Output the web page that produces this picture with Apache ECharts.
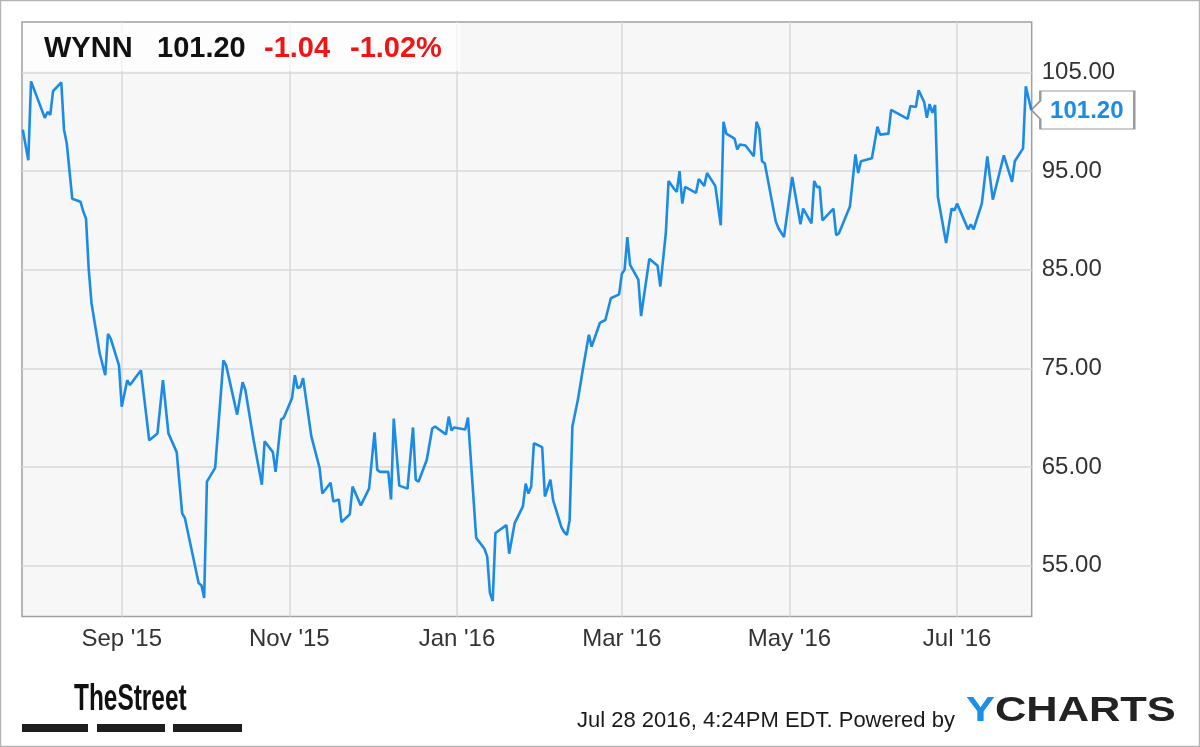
<!DOCTYPE html>
<html><head><meta charset="utf-8">
<script src="https://cdn.jsdelivr.net/npm/echarts@6.0.0/dist/echarts.min.js"></script>
<style>html,body{margin:0;padding:0;background:#fff}#c{width:1200px;height:747px}</style>
</head><body><div id="c"></div>
<script>
// ---- data ----
const tradeDates = ['2015-07-27','2015-07-29','2015-07-30','2015-08-04','2015-08-05','2015-08-06','2015-08-07','2015-08-10','2015-08-11','2015-08-12',
'2015-08-14','2015-08-17','2015-08-18','2015-08-19','2015-08-20','2015-08-21','2015-08-24','2015-08-26','2015-08-27','2015-08-28',
'2015-08-31','2015-09-01','2015-09-03','2015-09-04','2015-09-08','2015-09-11','2015-09-14','2015-09-16','2015-09-18','2015-09-21',
'2015-09-23','2015-09-24','2015-09-29','2015-09-30','2015-10-01','2015-10-02','2015-10-05','2015-10-08','2015-10-09','2015-10-13',
'2015-10-15','2015-10-16','2015-10-19','2015-10-22','2015-10-23','2015-10-26','2015-10-27','2015-10-29','2015-10-30','2015-11-02',
'2015-11-03','2015-11-04','2015-11-05','2015-11-06','2015-11-09','2015-11-12','2015-11-13','2015-11-16','2015-11-17','2015-11-19',
'2015-11-20','2015-11-23','2015-11-24','2015-11-27','2015-11-30','2015-12-02','2015-12-03','2015-12-04','2015-12-07','2015-12-08',
'2015-12-09','2015-12-11','2015-12-14','2015-12-16','2015-12-17','2015-12-18','2015-12-21','2015-12-23','2015-12-24','2015-12-28',
'2015-12-29','2015-12-30','2015-12-31','2016-01-04','2016-01-05','2016-01-08','2016-01-11','2016-01-12','2016-01-13','2016-01-14',
'2016-01-15','2016-01-19','2016-01-20','2016-01-22','2016-01-25','2016-01-26','2016-01-27','2016-01-28','2016-01-29','2016-02-01',
'2016-02-02','2016-02-04','2016-02-05','2016-02-08','2016-02-09','2016-02-10','2016-02-11','2016-02-12','2016-02-14','2016-02-16',
'2016-02-18','2016-02-19','2016-02-22','2016-02-24','2016-02-26','2016-02-29','2016-03-01','2016-03-02','2016-03-03','2016-03-04',
'2016-03-07','2016-03-08','2016-03-11','2016-03-14','2016-03-15','2016-03-17','2016-03-18','2016-03-20','2016-03-21','2016-03-22',
'2016-03-23','2016-03-24','2016-03-28','2016-03-29','2016-03-31','2016-04-01','2016-04-04','2016-04-06','2016-04-07','2016-04-08',
'2016-04-11','2016-04-12','2016-04-13','2016-04-15','2016-04-18','2016-04-19','2016-04-20','2016-04-21','2016-04-22','2016-04-26',
'2016-04-27','2016-04-29','2016-05-02','2016-05-05','2016-05-06','2016-05-09','2016-05-10','2016-05-11','2016-05-12','2016-05-13',
'2016-05-17','2016-05-18','2016-05-19','2016-05-23','2016-05-25','2016-05-26','2016-05-27','2016-05-31','2016-06-02','2016-06-03',
'2016-06-06','2016-06-07','2016-06-09','2016-06-13','2016-06-14','2016-06-16','2016-06-17','2016-06-19','2016-06-20','2016-06-21',
'2016-06-22','2016-06-23','2016-06-24','2016-06-27','2016-06-29','2016-06-30','2016-07-01','2016-07-05','2016-07-06','2016-07-07',
'2016-07-10','2016-07-12','2016-07-14','2016-07-18','2016-07-21','2016-07-22','2016-07-25','2016-07-26','2016-07-28'];

const closePrices = [99.2,96.1,104.1,100.4,101.0,100.7,103.1,104.0,99.2,97.8,
92.2,91.9,90.9,90.2,85.0,81.6,76.5,74.3,78.5,78.0,
75.3,71.1,73.8,73.3,74.8,67.7,68.4,73.8,68.4,66.5,
60.3,59.8,53.2,53.0,51.7,63.5,64.9,75.8,75.3,70.3,
73.6,72.8,67.7,63.2,67.6,66.5,64.5,69.8,70.0,72.0,
74.3,73.0,73.1,74.0,68.1,64.9,62.3,63.4,61.5,61.7,
59.4,60.2,63.0,61.1,62.8,68.5,64.7,64.5,64.5,61.7,
69.9,63.1,62.8,69.0,63.7,63.5,65.7,68.9,69.1,68.3,
70.1,68.7,69.0,68.8,70.0,57.8,56.7,55.9,52.2,51.4,
58.3,59.1,56.2,59.3,61.0,63.3,62.3,63.0,67.4,67.0,
62.0,63.7,61.6,58.9,58.4,58.1,59.6,69.1,71.8,75.2,
78.4,77.2,79.6,79.9,82.1,82.5,84.6,85.0,88.3,85.5,
84.0,80.3,86.1,85.4,83.3,88.7,94.0,93.2,92.9,95.0,
91.7,93.4,92.8,94.2,93.5,94.8,93.5,89.5,100.0,98.8,
98.3,97.2,97.7,97.6,96.5,100.0,99.3,96.0,95.8,89.9,
89.2,88.3,94.4,89.6,91.2,89.7,94.0,93.4,93.4,90.0,
91.2,88.5,88.7,91.4,96.7,94.8,96.0,96.3,99.5,98.7,
98.8,101.2,100.9,100.3,101.6,101.5,103.2,102.0,100.4,101.8,
100.9,101.7,92.4,87.7,91.2,91.0,91.7,89.1,89.6,89.1,
91.7,96.5,92.1,96.6,93.9,96.0,97.3,103.6,101.2];

const xTickDates = ['2015-09-01','2015-11-01','2016-01-01','2016-03-01','2016-05-01','2016-07-01'];
const xTickLabels = ["Sep '15","Nov '15","Jan '16","Mar '16","May '16","Jul '16"];
const yTickValues = [55,65,75,85,95,105];
const ticker = 'WYNN';
const lastPriceText = '101.20';
const changeText = '-1.04';
const changePctText = '-1.02%';
const footerText = 'Jul 28 2016, 4:24PM EDT. Powered by';

// ---- helpers ----
function parseLocal(s) {
  const m = s.match(/^(\d{4})-(\d{2})-(\d{2})(?: (\d{2}):(\d{2}))?$/);
  return new Date(+m[1], +m[2] - 1, +m[3], m[4] ? +m[4] : 0, m[5] ? +m[5] : 0).getTime();
}
const xTicks = xTickDates.map(parseLocal);
const seriesData = tradeDates.map((d, i) => [parseLocal(d), closePrices[i]]);
const last = seriesData[seriesData.length - 1];
const FONT = "'Liberation Sans', Arial, Helvetica, sans-serif";
const BLUE = '#1b8be6';

const chart = echarts.init(document.getElementById('c'), null, {renderer: 'canvas'});
chart.setOption({
  animation: false,
  backgroundColor: '#ffffff',
  grid: {
    left: 22, right: 168.3, top: 22, bottom: 130.5,
    show: true, backgroundColor: '#f7f7f7', borderColor: '#a0a0a0', borderWidth: 1.5,
    containLabel: false, outerBoundsMode: 'none'
  },
  xAxis: {
    type: 'value',
    scale: true,
    min: parseLocal('2015-07-26 17:00'),
    max: parseLocal('2016-07-28 03:36'),
    axisLine: {show: false},
    axisTick: {show: false, customValues: xTicks},
    axisLabel: {
      customValues: xTicks,
      formatter: (v) => { const i = xTicks.indexOf(v); return i >= 0 ? xTickLabels[i] : ''; },
      fontFamily: FONT, fontSize: 24, color: '#333', margin: 11
    },
    splitLine: {show: true, lineStyle: {color: '#d9d9d9', width: 1.5}}
  },
  yAxis: {
    type: 'value',
    position: 'right',
    min: 49.83, max: 110.12,
    axisLine: {show: false},
    axisTick: {show: false, customValues: yTickValues},
    axisLabel: {
      customValues: yTickValues,
      formatter: (v) => v.toFixed(2),
      fontFamily: FONT, fontSize: 24, color: '#333', margin: 10
    },
    splitLine: {show: true, lineStyle: {color: '#d9d9d9', width: 1.5}}
  },
  series: [{
    type: 'line',
    data: seriesData,
    showSymbol: false,
    symbol: 'none',
    lineStyle: {color: BLUE, width: 2.6},
    z: 5,
    markPoint: {
      symbol: 'path://M9,0L103,0L103,38L9,38L9,28L0,19L9,10Z',
      symbolSize: [103, 38],
      symbolOffset: [51.5, 0],
      symbolKeepAspect: false,
      itemStyle: {color: '#ffffff', borderColor: '#9a9a9a', borderWidth: 1.5},
      label: {
        show: true, position: 'inside', offset: [4, 1],
        formatter: () => lastPriceText,
        fontFamily: FONT, fontSize: 24, fontWeight: 'bold', color: BLUE
      },
      data: [{coord: last, value: last[1]}]
    }
  }],
  graphic: [
    {type: 'rect', z: 0, silent: true, shape: {x: 0.5, y: 0.5, width: 1199, height: 746},
      style: {fill: 'none', stroke: '#b5b5b5', lineWidth: 1.5}},
    {type: 'rect', z: 1, silent: true, shape: {x: 23, y: 23, width: 437, height: 48},
      style: {fill: 'rgba(255,255,255,0.7)'}},
    {type: 'text', z: 10, x: 44, y: 49, style: {text: ticker, font: "bold 29px " + FONT, fill: '#111', textVerticalAlign: 'middle'}},
    {type: 'text', z: 10, x: 157, y: 49, style: {text: lastPriceText, font: "bold 29px " + FONT, fill: '#111', textVerticalAlign: 'middle'}},
    {type: 'text', z: 10, x: 264, y: 49, style: {text: changeText, font: "bold 29px " + FONT, fill: '#f01414', textVerticalAlign: 'middle'}},
    {type: 'text', z: 10, x: 350, y: 49, style: {text: changePctText, font: "bold 29px " + FONT, fill: '#f01414', textVerticalAlign: 'middle'}},
    {type: 'text', z: 10, x: 74, y: 700, scaleX: 0.66,
      style: {text: 'TheStreet', font: "bold 37px " + FONT, fill: '#111', textVerticalAlign: 'middle'}},
    {type: 'rect', z: 10, shape: {x: 22, y: 724, width: 66, height: 8}, style: {fill: '#1e1e1e'}},
    {type: 'rect', z: 10, shape: {x: 97, y: 724, width: 68, height: 8}, style: {fill: '#1e1e1e'}},
    {type: 'rect', z: 10, shape: {x: 173, y: 724, width: 69, height: 8}, style: {fill: '#1e1e1e'}},
    {type: 'text', z: 10, x: 577, y: 721, style: {text: footerText, font: "22px " + FONT, fill: '#1a1a1a', textVerticalAlign: 'middle'}},
    {type: 'text', z: 10, x: 966, y: 711, scaleX: 1.24,
      style: {text: '{y|Y}{c|CHARTS}', textVerticalAlign: 'middle',
        rich: {y: {font: "bold 35px " + FONT, fill: '#1a8fe8'}, c: {font: "bold 35px " + FONT, fill: '#222'}}}}
  ]
});
</script>
</body></html>
